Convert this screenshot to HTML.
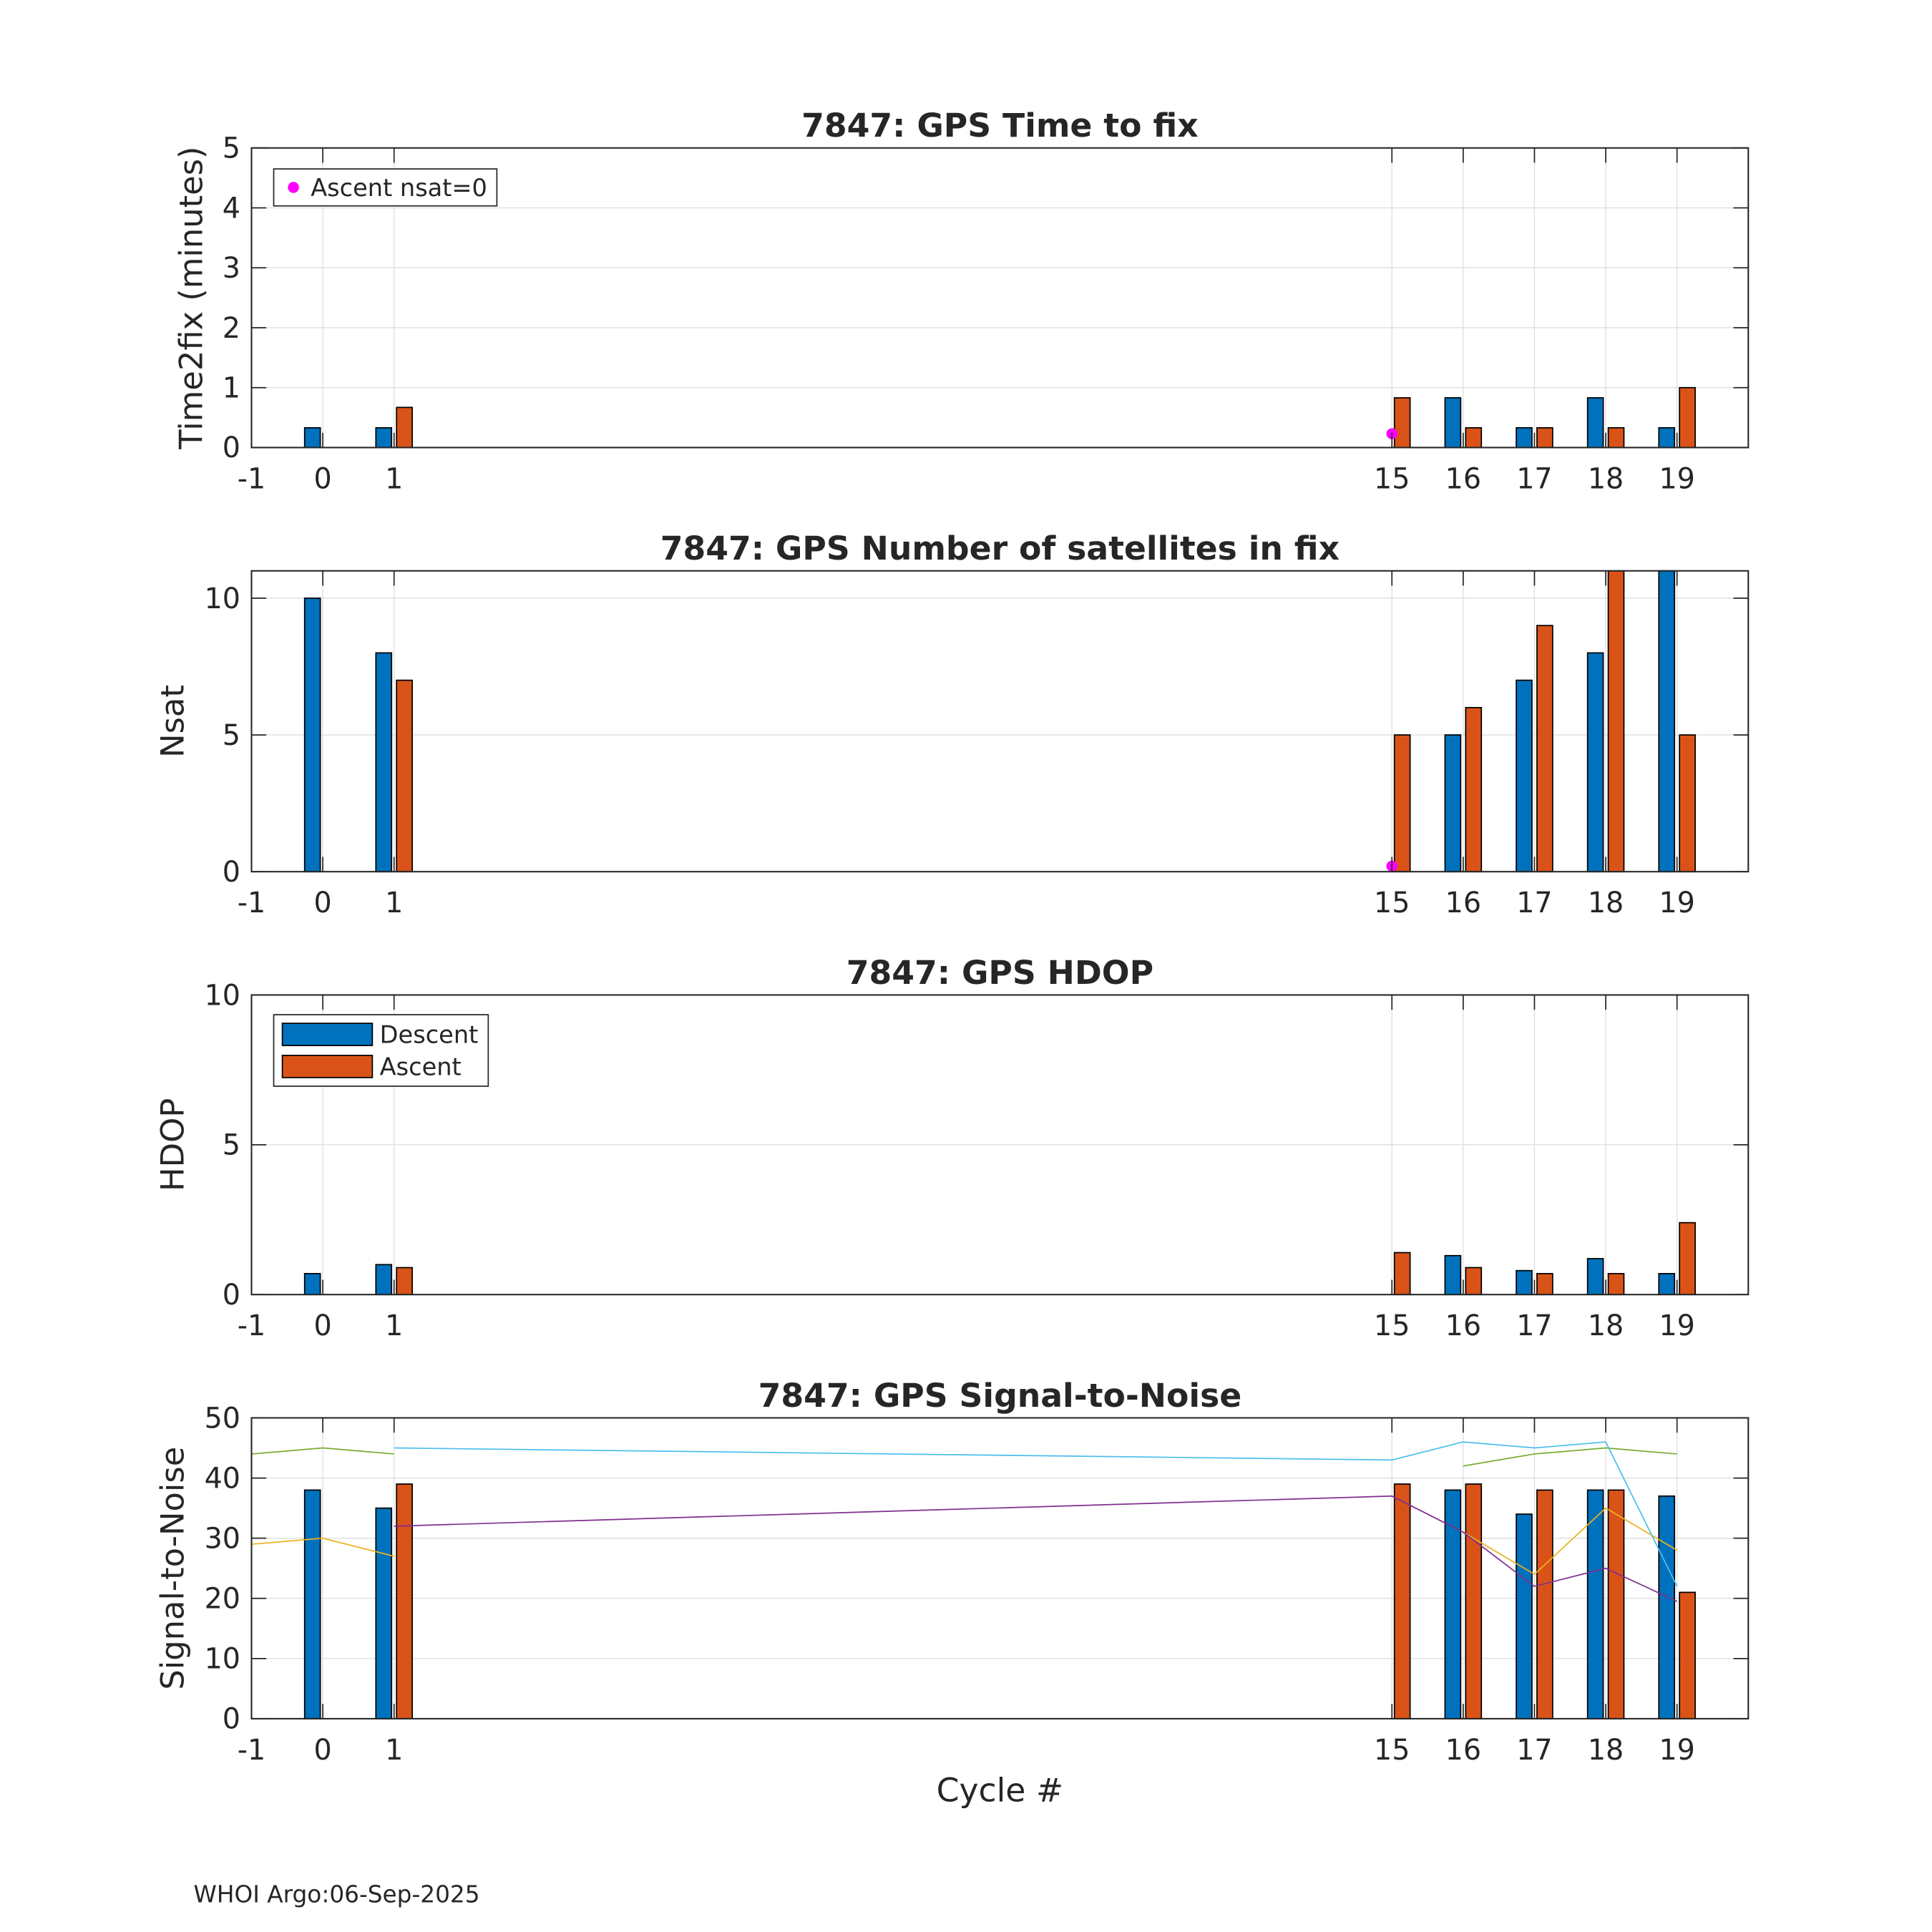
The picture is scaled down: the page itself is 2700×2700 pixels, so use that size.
<!DOCTYPE html>
<html><head><meta charset="utf-8"><style>
html,body{margin:0;padding:0;background:#fff}
svg{display:block}
text{font-family:"DejaVu Sans","Liberation Sans",sans-serif;fill:#262626}
</style></head><body>
<svg id="fig" xmlns="http://www.w3.org/2000/svg" width="2700" height="2700" viewBox="0 0 1567 1567">
<rect x="0" y="0" width="1567" height="1567" fill="#fff"/>
<text x="811" y="1461" font-size="26.5" text-anchor="middle">Cycle #</text>
<text x="157" y="1543" font-size="19">WHOI Argo:06-Sep-2025</text>
</svg>
<script>
const cycles=[0,1,15,16,17,18,19];
const xTicks=[-1,0,1,15,16,17,18,19];
const t2fDesc=[0.33,0.33,null,0.83,0.33,0.83,0.33];
const t2fAsc=[null,0.67,0.83,0.33,0.33,0.33,1.0];
const nsatDesc=[10,8,null,5,7,8,11];
const nsatAsc=[null,7,5,6,9,11,5];
const hdopDesc=[0.7,1.0,null,1.3,0.8,1.2,0.7];
const hdopAsc=[null,0.9,1.4,0.9,0.7,0.7,2.4];
const snrDesc=[38,35,null,38,34,38,37];
const snrAsc=[null,39,39,39,38,38,21];
const nsat0X=[15];
const nsat0T2F=[0.23];
const nsat0N=[0.2];
const greenA_x=[-1,0,1], greenA_y=[44,45,44];
const greenB_x=[16,17,18,19], greenB_y=[42,44,45,44];
const orangeA_x=[-1,0,1], orangeA_y=[29,30,27];
const orangeB_x=[16,17,18,19], orangeB_y=[31,24,35,28];
const cyan_x=[1,15,16,17,18,19], cyan_y=[45,43,46,45,46,22];
const purple_x=[1,15,16,17,18,19], purple_y=[32,37,31,22,25,19.5];

const NS='http://www.w3.org/2000/svg';
const svg=document.getElementById('fig');
function mk(tag,attrs,parent){const e=document.createElementNS(NS,tag);for(const k in attrs)e.setAttribute(k,attrs[k]);(parent||svg).appendChild(e);return e;}
const X0=204,X1=1418,XMIN=-1,XMAX=20;
function sx(v){return X0+(v-XMIN)/(XMAX-XMIN)*(X1-X0);}
const BLUE='#0072BD',ORANGE='#D95319';

function panel(cfg){
  const g=mk('g',{});
  
  
  const sy=v=>cfg.bot-(v-cfg.ymin)/(cfg.ymax-cfg.ymin)*(cfg.bot-cfg.top);
  xTicks.forEach(t=>{const l=mk('line',{x1:sx(t),x2:sx(t),y1:cfg.top,y2:cfg.bot,stroke:'#dfdfdf','stroke-width':0.8},g);
    });
  cfg.yticks.forEach(t=>{const l=mk('line',{x1:X0,x2:X1,y1:sy(t),y2:sy(t),stroke:'#dfdfdf','stroke-width':0.8},g);
    });
  const bw=(X1-X0)/(XMAX-XMIN)*0.22, off=(X1-X0)/(XMAX-XMIN)*0.145;
  const clip=v=>Math.min(v,cfg.ymax);
  cycles.forEach((c,i)=>{
    if(cfg.desc[i]!=null){const r=mk('rect',{x:sx(c)-off-bw/2,y:sy(clip(cfg.desc[i])),width:bw,height:sy(0)-sy(clip(cfg.desc[i])),fill:BLUE,stroke:'#000','stroke-width':1},g);
      }
    if(cfg.asc[i]!=null){const r=mk('rect',{x:sx(c)+off-bw/2,y:sy(clip(cfg.asc[i])),width:bw,height:sy(0)-sy(clip(cfg.asc[i])),fill:ORANGE,stroke:'#000','stroke-width':1},g);
      }
  });
  if(cfg.lines){cfg.lines.forEach(L=>{
    const p=mk('polyline',{points:L.x.map((v,i)=>sx(v)+','+sy(L.y[i])).join(' '),fill:'none',stroke:L.c,'stroke-width':1},g);
    });}
  if(cfg.dots){cfg.dots.x.forEach((v,i)=>{const d=mk('circle',{cx:sx(v),cy:sy(cfg.dots.y[i]),r:4.5,fill:'#FF00FF'},g);
    });}
  const b=mk('rect',{x:X0,y:cfg.top,width:X1-X0,height:cfg.bot-cfg.top,fill:'none',stroke:'#262626','stroke-width':1.2},g);
  
  xTicks.forEach(t=>{
    mk('line',{x1:sx(t),x2:sx(t),y1:cfg.bot,y2:cfg.bot-12,stroke:'#262626','stroke-width':1},g);
    mk('line',{x1:sx(t),x2:sx(t),y1:cfg.top,y2:cfg.top+12,stroke:'#262626','stroke-width':1},g);
    const tx=mk('text',{x:sx(t),y:cfg.bot+33,'font-size':23,'text-anchor':'middle'},g);tx.textContent=t;
    
  });
  cfg.yticks.forEach(t=>{
    mk('line',{x1:X0,x2:X0+12,y1:sy(t),y2:sy(t),stroke:'#262626','stroke-width':1},g);
    mk('line',{x1:X1,x2:X1-12,y1:sy(t),y2:sy(t),stroke:'#262626','stroke-width':1},g);
    const tx=mk('text',{x:X0-9,y:sy(t)+8,'font-size':23,'text-anchor':'end'},g);tx.textContent=t;
    
  });
  const ti=mk('text',{x:811,y:cfg.top-9,'font-size':26.5,'font-weight':'bold','text-anchor':'middle'},g);ti.textContent=cfg.title;
  
  const yl=mk('text',{x:0,y:0,'font-size':26,'text-anchor':'middle',transform:'translate('+cfg.ylx+','+((cfg.top+cfg.bot)/2)+') rotate(-90)'},g);yl.textContent=cfg.ylabel;
  
  return g;
}
panel({name:'time-to-fix-panel',top:120,bot:363,ymin:0,ymax:5,yticks:[0,1,2,3,4,5],desc:t2fDesc,asc:t2fAsc,title:'7847: GPS Time to fix',ylabel:'Time2fix (minutes)',ylx:164,dots:{x:nsat0X,y:nsat0T2F}});
panel({name:'nsat-panel',top:463,bot:707,ymin:0,ymax:11,yticks:[0,5,10],desc:nsatDesc,asc:nsatAsc,title:'7847: GPS Number of satellites in fix',ylabel:'Nsat',ylx:149,dots:{x:nsat0X,y:nsat0N}});
panel({name:'hdop-panel',top:807,bot:1050,ymin:0,ymax:10,yticks:[0,5,10],desc:hdopDesc,asc:hdopAsc,title:'7847: GPS HDOP',ylabel:'HDOP',ylx:149});
panel({name:'snr-panel',top:1150,bot:1394,ymin:0,ymax:50,yticks:[0,10,20,30,40,50],desc:snrDesc,asc:snrAsc,title:'7847: GPS Signal-to-Noise',ylabel:'Signal-to-Noise',ylx:149,
 lines:[{x:greenA_x,y:greenA_y,c:'#77AC30',name:'snr-line-green'},{x:greenB_x,y:greenB_y,c:'#77AC30',name:'snr-line-green'},
 {x:orangeA_x,y:orangeA_y,c:'#EDB120',name:'snr-line-yellow'},{x:orangeB_x,y:orangeB_y,c:'#EDB120',name:'snr-line-yellow'},
 {x:cyan_x,y:cyan_y,c:'#4DBEEE',name:'snr-line-cyan'},{x:purple_x,y:purple_y,c:'#7E2F8E',name:'snr-line-purple'}]});

const lg1=mk('g',{});


mk('rect',{x:222,y:137,width:181,height:30,fill:'#fff',stroke:'#262626','stroke-width':1},lg1);
mk('circle',{cx:238,cy:152,r:4.5,fill:'#FF00FF'},lg1);
const l1t=mk('text',{x:252,y:159,'font-size':19.5,fill:'#000'},lg1);l1t.textContent='Ascent nsat=0';
const lg2=mk('g',{});


mk('rect',{x:222,y:823,width:174,height:58,fill:'#fff',stroke:'#262626','stroke-width':1},lg2);
mk('rect',{x:229,y:830,width:73,height:18,fill:BLUE,stroke:'#000','stroke-width':1},lg2);
mk('rect',{x:229,y:856,width:73,height:18,fill:ORANGE,stroke:'#000','stroke-width':1},lg2);
const l2a=mk('text',{x:308,y:846,'font-size':19.5,fill:'#000'},lg2);l2a.textContent='Descent';
const l2b=mk('text',{x:308,y:872,'font-size':19.5,fill:'#000'},lg2);l2b.textContent='Ascent';
</script>
</body></html>
